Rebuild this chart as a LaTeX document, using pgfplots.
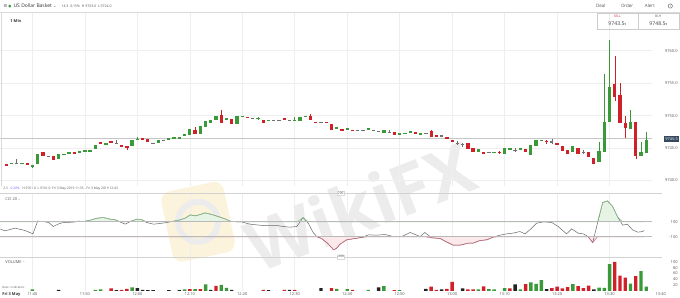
\documentclass[border=0pt]{standalone}
\usepackage{fontspec}
\setmainfont{Open Sans}
\newfontfamily\sym{DejaVu Sans}
\usepackage{pgfplots}
\usepackage{pgfplotstable}
\pgfplotsset{compat=1.18}
\newcommand\fs[1]{\fontsize{#1}{#1}\selectfont}
\definecolor{cgreen}{HTML}{3A9A3A}
\definecolor{cred}{HTML}{D0202A}
\definecolor{cgray}{HTML}{707070}
\definecolor{gridc}{HTML}{EEEEEE}
\definecolor{labc}{HTML}{555555}
\definecolor{navy}{HTML}{34495E}
\definecolor{ccil}{HTML}{666666}
\definecolor{ccig}{HTML}{8CC88C}
\definecolor{ccigf}{HTML}{E6F4E6}
\definecolor{ccir}{HTML}{D46A7A}
\definecolor{ccirf}{HTML}{FBE9EC}
\definecolor{wm}{HTML}{ECECEC}
\definecolor{wmy}{HTML}{FBF3DC}
\definecolor{vblack}{HTML}{222222}

\pgfplotstableread{
m o c h l
-4 9742.72 9742.82 9742.82 9742.72
-2 9742.72 9742.82 9742.82 9742.72
0 9742.32 9742.42 9742.42 9742.11
1 9742.68 9744.22 9744.22 9742.68
5 9743.29 9744.15 9744.15 9743.29
6 9744.17 9744.27 9744.27 9744.17
7 9744.26 9744.36 9744.36 9744.26
9 9744.37 9744.62 9744.62 9744.37
10 9744.52 9744.62 9744.62 9744.52
11 9744.52 9744.72 9744.72 9744.52
12 9744.88 9745.49 9745.49 9744.88
14 9745.54 9745.85 9745.85 9745.54
19 9745.38 9746.31 9746.31 9745.38
20 9746.47 9746.57 9746.68 9746.47
24 9745.91 9746.26 9746.26 9745.91
26 9746.31 9746.72 9746.72 9746.31
27 9746.57 9746.67 9746.67 9746.57
28 9746.63 9746.73 9746.73 9746.63
29 9746.88 9747.18 9747.18 9746.88
30 9747.03 9747.91 9747.91 9747.03
32 9747.29 9748.42 9748.42 9747.29
33 9748.31 9749.18 9749.18 9748.31
34 9748.98 9749.49 9749.49 9748.98
35 9749.38 9749.95 9749.95 9749.38
37 9749.29 9749.69 9749.69 9749.29
39 9748.72 9749.95 9749.95 9748.72
40 9749.95 9750.05 9750.05 9749.95
43 9749.55 9749.65 9749.80 9749.38
45 9749.33 9749.43 9749.43 9749.33
50 9749.33 9749.43 9749.75 9749.23
51 9749.23 9749.80 9749.80 9749.23
52 9749.95 9750.05 9750.05 9749.95
58 9747.95 9748.22 9748.22 9747.95
60 9748.01 9748.11 9748.11 9748.01
64 9748.01 9748.11 9748.11 9748.01
67 9747.38 9747.80 9747.80 9747.38
70 9746.98 9747.34 9747.34 9746.98
71 9747.33 9747.43 9747.43 9747.33
72 9747.45 9747.75 9747.75 9747.45
74 9747.24 9747.34 9747.34 9747.24
85 9744.42 9744.83 9744.83 9744.42
88 9744.41 9744.51 9744.51 9744.41
90 9744.15 9745.03 9745.03 9744.15
91 9744.87 9744.97 9744.97 9744.87
93 9744.93 9745.03 9745.03 9744.93
95 9744.06 9745.60 9745.60 9744.06
96 9745.49 9746.37 9746.37 9745.49
97 9746.21 9746.31 9746.31 9746.21
103 9744.46 9745.34 9745.34 9744.46
108 9742.83 9744.57 9746.00 9742.83
109 9744.46 9749.18 9756.37 9744.46
110 9749.18 9754.57 9761.65 9749.18
114 9748.15 9749.18 9750.98 9748.15
116 9743.85 9744.37 9745.91 9743.85
117 9744.46 9746.45 9747.45 9744.46
}\greentab

\pgfplotstableread{
m o c h l
-5 9742.77 9742.37 9742.77 9742.37
-1 9742.73 9742.63 9742.73 9742.63
2 9744.37 9743.85 9744.37 9743.85
4 9743.85 9743.29 9743.85 9743.29
8 9744.46 9744.26 9744.46 9744.26
13 9745.91 9745.69 9745.91 9745.69
15 9746.00 9745.90 9746.00 9745.90
17 9745.60 9745.23 9745.60 9745.23
18 9745.38 9745.18 9745.38 9744.92
21 9746.52 9746.37 9746.52 9746.37
22 9746.42 9745.95 9746.42 9745.95
31 9747.91 9747.29 9748.26 9747.29
36 9750.11 9748.98 9751.03 9748.98
38 9749.60 9748.83 9749.60 9748.83
41 9749.85 9749.75 9749.85 9749.75
44 9749.45 9749.03 9749.45 9749.03
48 9749.69 9749.38 9749.69 9749.38
53 9750.00 9749.38 9750.22 9749.38
54 9749.13 9749.03 9749.13 9749.03
56 9749.13 9749.03 9749.13 9749.03
57 9748.77 9747.91 9748.77 9747.91
59 9748.00 9747.80 9748.00 9747.80
61 9747.96 9747.86 9747.96 9747.86
69 9747.54 9747.03 9747.54 9747.03
73 9747.49 9747.29 9747.49 9747.29
76 9747.69 9746.83 9747.91 9746.83
77 9747.08 9746.92 9747.08 9746.92
79 9746.72 9746.52 9746.72 9746.52
80 9746.26 9746.06 9746.26 9746.06
83 9745.85 9744.92 9745.85 9744.92
84 9745.03 9744.52 9745.03 9744.52
86 9744.42 9744.32 9744.42 9744.15
89 9744.51 9744.41 9744.51 9744.06
94 9744.88 9744.37 9744.88 9744.37
98 9746.20 9746.10 9746.37 9745.75
100 9745.91 9745.65 9745.91 9745.65
101 9745.38 9744.62 9745.38 9744.62
102 9744.83 9744.11 9744.83 9744.11
104 9745.08 9744.15 9745.08 9744.15
106 9744.37 9743.65 9744.37 9743.65
107 9743.54 9742.68 9743.54 9742.68
111 9754.88 9752.92 9759.23 9752.42
112 9753.18 9748.83 9754.98 9748.83
113 9748.98 9748.31 9749.95 9746.62
115 9749.08 9743.95 9749.08 9743.45
}\redtab

\pgfplotstableread{
m o c h l
-3 9742.83 9742.93 9743.29 9742.57
3 9743.90 9744.00 9744.00 9743.90
16 9745.86 9745.96 9746.37 9745.75
23 9745.80 9745.90 9745.90 9745.80
25 9746.32 9746.42 9746.42 9746.32
42 9749.55 9749.65 9749.65 9749.55
46 9749.29 9749.39 9749.39 9749.29
47 9749.33 9749.43 9749.43 9749.33
49 9749.33 9749.43 9749.43 9749.33
55 9748.98 9749.08 9749.08 9748.98
62 9747.75 9747.85 9747.85 9747.75
63 9747.75 9747.85 9747.85 9747.75
65 9747.80 9747.90 9747.90 9747.80
66 9747.70 9747.80 9747.80 9747.70
68 9747.49 9747.59 9747.75 9747.34
75 9747.33 9747.43 9747.43 9747.33
78 9746.93 9747.03 9747.03 9746.93
81 9745.80 9745.90 9746.06 9745.54
82 9745.60 9745.70 9745.85 9745.23
87 9744.41 9744.51 9744.51 9744.41
92 9744.78 9744.88 9745.14 9744.46
99 9745.95 9746.05 9746.37 9745.65
105 9744.37 9744.47 9744.77 9744.06
}\graytab

\pgfplotstableread{
m v
-6.1 3
-5.2 -20
-3.3 16
-1.4 -16
0.1 -60
1.0 109
2.1 104
3.1 91
4.0 38
5.0 73
5.9 91
7.8 96
8.8 109
9.7 104
11 122
12.3 149
13.5 158
14.8 136
15.8 127
16.7 100
17.7 69
18.6 104
19.9 136
20.9 127
21.8 91
23.1 69
24.3 78
25.6 91
26.9 109
28.2 127
29.1 149
30.1 193
31 180
32 198
32.9 220
34.2 198
35.4 171
36.7 140
37.7 109
39 100
39.9 100
41.2 73
42.1 64
44 51
45.3 51
46.6 51
47.8 38
49.1 29
50.4 38
51.6 158
52.6 78
53.5 -42
54.2 -96
55.1 -122
56.1 -176
56.7 -220
57.4 -273
58 -251
58.6 -200
59.9 -140
61.5 -122
63.1 -104
64 -73
65.6 -78
67.2 -69
68.8 -96
70.4 -96
72 -42
73.9 -96
74.8 -42
76.1 -113
77.7 -122
78.9 -167
80.2 -211
81.5 -211
83.1 -184
84 -184
85.3 -149
86.6 -140
87.8 -104
89.1 -78
90.4 -60
91.6 -51
92.9 -29
93.9 -60
94.8 -7
96.1 82
97.4 100
99 91
100.2 38
101.8 -60
102.8 7
104 -51
105 -60
105.9 -96
106.8 -176
107.7 82
108.7 358
109.6 380
110.6 304
111.5 171
112.5 56
113.4 69
114.4 -7
115.4 -38
116.3 -29
116.6 -16
}\ccitab

\pgfplotstableread{
m v
0 5
12 3.5
13 4.6
19 11.5
29 4.6
31 5.8
33 22
36 20
37 10
58 7
60 6
64 3.5
67 16
70 2.5
85 5
87 6
88 5
90 9
93 5
95 29
96 24
97 37
103 23
108 11
109 10
110 92
114 25
116 68
117 14
}\volg

\pgfplotstableread{
m v
15 8
17 3.5
18 7
30 5.8
32 5.8
35 17
44 3.5
48 3.5
50 3.5
57 9
61 3.5
69 2.5
76 14
77 3.5
79 7
80 31
83 5
84 5
86 15
91 8
94 23
99 9
100 14
101 8
102 13
104 16
105 9
106 18
111 100
112 52
113 45
115 51
}\volr

\pgfplotstableread{
m v
5 3.5
16 2.5
20 9
21 3.5
22 2.5
23 2.5
26 2.5
28 2.5
34 3.5
38 3.5
45 2.5
49 3.5
55 9
66 11.5
75 7
78 5
82 8
92 22
98 6
107 5
}\volk

\pgfplotsset{
  panel/.style={scale only axis, width=652bp, anchor=south west,
    xmin=-6.13, xmax=118.05,
    axis line style={draw=none}, major tick length=0pt,
    xtick={0,10,...,110}, xmajorgrids,
    major grid style={draw=gridc, line width=0.5bp},
    yticklabel pos=right,
    yticklabel style={anchor=east, xshift=26bp, inner sep=0pt, font=\fs{4}, text=labc},
    /pgf/number format/assume math mode=true},
  wick/.style={draw=none, mark=none, forget plot, error bars/.cd, y dir=both, y explicit,
    error mark=none, error bar style={draw=#1, line width=0.5bp}},
  body/.style={draw=none, mark=none, forget plot, error bars/.cd, y dir=both, y explicit,
    error mark=none, error bar style={draw=#1, line width=3.3bp}},
}

\begin{document}
\begin{tikzpicture}
\begin{scope}[x=1bp,y=1bp]
\path[use as bounding box, fill=white] (0,0) rectangle (680,298);
% watermark
\node[rotate=12, fill=wmy, rounded corners=10, minimum width=64, minimum height=72] at (198,76) {};
\draw[wm, line width=6] (198,76) circle (20);
\node[rotate=21, text=wm, font=\fs{70}\bfseries] at (360,92) {WikiFX};
\end{scope}

% main price panel
\begin{axis}[panel, at={(0bp,112bp)}, height=173bp,
  ymin=9739.18, ymax=9765.8, ytick={9740,9745,...,9760}, ymajorgrids,
  xticklabels={},
  y tick label style={/pgf/number format/.cd, fixed, fixed zerofill, precision=1, 1000 sep={}}]
\addplot[draw=gray!45, line width=0.6bp, forget plot] coordinates {(-7,9746.5) (120,9746.5)};
\addplot[wick=cgreen] table[x=m, y expr={(\thisrow{h}+\thisrow{l})/2}, y error expr={(\thisrow{h}-\thisrow{l})/2}] {\greentab};
\addplot[wick=cred] table[x=m, y expr={(\thisrow{h}+\thisrow{l})/2}, y error expr={(\thisrow{h}-\thisrow{l})/2}] {\redtab};
\addplot[wick=cgray] table[x=m, y expr={(\thisrow{h}+\thisrow{l})/2}, y error expr={(\thisrow{h}-\thisrow{l})/2}] {\graytab};
\addplot[body=cgreen] table[x=m, y expr={(\thisrow{o}+\thisrow{c})/2}, y error expr={abs(\thisrow{c}-\thisrow{o})/2}] {\greentab};
\addplot[body=cred] table[x=m, y expr={(\thisrow{o}+\thisrow{c})/2}, y error expr={abs(\thisrow{c}-\thisrow{o})/2}] {\redtab};
\addplot[body=cgray] table[x=m, y expr={(\thisrow{o}+\thisrow{c})/2}, y error expr={abs(\thisrow{c}-\thisrow{o})/2}] {\graytab};
\end{axis}

% CCI panel
\begin{axis}[panel, at={(0bp,40bp)}, height=65bp,
  ymin=-380, ymax=487, ytick={-100,100}, xticklabels={}]
\addplot[fill=ccigf, draw=none, forget plot] table[x=m, y expr={max(\thisrow{v},100)}] {\ccitab} -- (axis cs:116.6,100) -- (axis cs:-6.1,100) -- cycle;
\addplot[fill=ccirf, draw=none, forget plot] table[x=m, y expr={min(\thisrow{v},-100)}] {\ccitab} -- (axis cs:116.6,-100) -- (axis cs:-6.1,-100) -- cycle;
\addplot[draw=ccil, line width=0.5bp, forget plot] table[x=m, y=v] {\ccitab};
\addplot[draw=ccig, line width=0.5bp, forget plot] table[x=m, y expr={max(\thisrow{v},100)}] {\ccitab};
\addplot[draw=ccir, line width=0.5bp, forget plot] table[x=m, y expr={min(\thisrow{v},-100)}] {\ccitab};
\addplot[draw=gray!55, line width=0.8bp, forget plot] coordinates {(-7,100) (120,100)};
\addplot[draw=gray!55, line width=0.8bp, forget plot] coordinates {(-7,-100) (120,-100)};
\end{axis}

% volume panel
\begin{axis}[panel, at={(0bp,7bp)}, height=33bp,
  ymin=0, ymax=113.8, ytick={20,40,60,80,100},
  xticklabels={11:40,11:50,12:00,12:10,12:20,12:30,12:40,12:50,13:00,13:10,13:20,13:30},
  xticklabel style={font=\fs{4}, text=labc, anchor=north, inner sep=0pt, yshift=-1.6bp}]
\addplot[ybar, bar width=3.4bp, bar shift=0pt, fill=cgreen, draw=none] table[x=m, y=v] {\volg};
\addplot[ybar, bar width=3.4bp, bar shift=0pt, fill=cred, draw=none] table[x=m, y=v] {\volr};
\addplot[ybar, bar width=3.4bp, bar shift=0pt, fill=vblack, draw=none] table[x=m, y=v] {\volk};
\end{axis}

\begin{scope}[x=1bp,y=1bp]
% separators and frame lines
\draw[gray!30, line width=0.5] (0,286) -- (680,286);
\draw[gray!35, line width=0.5] (0,105) -- (662,105);
\draw[gray!35, line width=0.5] (0,41) -- (662,41);
\draw[gray!30, line width=0.5] (1,112) -- (1,286);

% header
\node[anchor=west, inner sep=0, font=\fs{5}, text=labc] at (3,292) {{\sym\fs{5}≡}\,{\color{cgreen}\sym\fs{3.5}●}\, {\color{black!80}US Dollar Basket} {\sym\fs{4}⌄}\quad {\fs{3.5}14.3\ \ 0.15\%\ \ H 9763.0\ \ L 9724.0}};
\node[anchor=west, inner sep=0, font=\fs{4.5}, text=labc] at (596,292) {Deal};
\node[anchor=west, inner sep=0, font=\fs{4.5}, text=labc] at (621,292) {Order};
\node[anchor=west, inner sep=0, font=\fs{4.5}, text=labc] at (645,292) {Alert};
\node[circle, draw=labc, line width=0.4, inner sep=0.6, font=\fs{3.5}, text=labc] at (670.5,292) {i};
\node[anchor=west, inner sep=0, font=\bfseries\fs{4}, text=black!80] at (10,276.5) {1 Min};
% sell / buy boxes
\draw[gray!40, line width=0.5] (597,268.7) rectangle (638,284.7);
\draw[gray!40, line width=0.5] (638,268.7) rectangle (679.5,284.7);
\node[inner sep=0, font=\fs{3.2}, text=cred] at (617.5,281.2) {SELL};
\node[inner sep=0, font=\fs{5.2}, text=black!75] at (617.5,274.5) {9743.5{\sym\fs{3}▾}};
\node[inner sep=0, font=\fs{3.2}, text=labc] at (658.5,281.2) {BUY};
\node[inner sep=0, font=\fs{5.2}, text=black!75] at (658.5,274.5) {9748.5{\sym\fs{3}▾}};
% current price box
\node[fill=navy, text=white, inner sep=1.2, font=\fs{4}, anchor=east] at (679.5,158.8) {9746.5};
% status line
\node[anchor=west, inner sep=0, font=\fs{3.3}, text=labc] at (3,109.3) {2.5\ \ \ {\color{blue!60}0.26\%}\ \ \ H 9761.0\ \ L 9741.0\ \ Fri 3 May 2019 11:35 - Fri 3 May 2019 12:43};
\node[anchor=west, inner sep=0, font=\fs{4}, text=labc] at (5,99) {CCI\ 20\ {\sym\fs{3}⌄}};
\node[fill=white, draw=gray!30, line width=0.3, inner sep=0.7, font=\fs{3.2}, text=labc] at (340.7,105) {200};
\node[fill=white, draw=gray!30, line width=0.3, inner sep=0.7, font=\fs{3.2}, text=labc] at (340.7,41) {-200};
\node[anchor=west, inner sep=0, font=\fs{4}, text=labc] at (5,35.5) {VOLUME\ {\sym\fs{3}⌃}};
\node[anchor=west, inner sep=0, font=\fs{2.8}, text=labc] at (2,10) {Date + indicators};
\node[anchor=west, inner sep=0, font=\bfseries\fs{4}, text=black!80] at (2,3.8) {Fri 3 May};
\node[inner sep=0, font=\fs{4}, text=labc] at (661,3.8) {13:40};
\end{scope}
\end{tikzpicture}
\end{document}
